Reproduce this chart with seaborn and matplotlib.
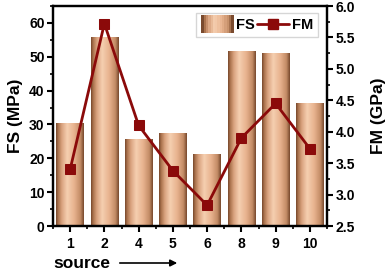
import numpy as np
import pandas as pd
import matplotlib
matplotlib.use("Agg")
import matplotlib.pyplot as plt
import seaborn as sns
from matplotlib.colors import LinearSegmentedColormap
from matplotlib.ticker import MultipleLocator
from matplotlib.legend_handler import HandlerPatch
from matplotlib.patches import Rectangle

sources = ["1", "2", "4", "5", "6", "8", "9", "10"]
fs_values = [30.5, 55.8, 25.8, 27.4, 21.3, 51.8, 51.0, 36.2]
fm_values = [3.40, 5.72, 4.10, 3.38, 2.83, 3.90, 4.45, 3.73]

sns.set_theme(style="ticks")
plt.rcParams['font.family'] = ['Liberation Sans', 'DejaVu Sans']
plt.rcParams['font.weight'] = 'bold'
plt.rcParams['text.color'] = 'black'
plt.rcParams['axes.labelcolor'] = 'black'
plt.rcParams['xtick.color'] = 'black'
plt.rcParams['ytick.color'] = 'black'

df = pd.DataFrame({"source": sources, "FS": fs_values, "FM": fm_values})

fig = plt.figure(figsize=(3.87, 2.69), dpi=100)
ax = fig.add_axes([53/387, 1-226/269, (327-53)/387, (226-6)/269])

sns.barplot(data=df, x="source", y="FS", ax=ax, color="#e3ae88", width=0.8,
            edgecolor="none", zorder=2)

cmap = LinearSegmentedColormap.from_list(
    "bar", [(0.0, "#7a4a2e"), (0.07, "#a9714c"), (0.2, "#d9a27e"),
            (0.4, "#f5cfb0"), (0.65, "#e8b38f"), (0.88, "#c38c66"), (1.0, "#7a4a2e")])
grad = np.linspace(0, 1, 64).reshape(1, -1)
for p in list(ax.patches):
    x0, y0 = p.get_x(), p.get_y()
    w, h = p.get_width(), p.get_height()
    im = ax.imshow(grad, cmap=cmap, aspect="auto", extent=[x0, x0 + w, y0, y0 + h],
                   zorder=2.1, interpolation="bilinear")
    im.set_clip_path(p)

ax.set_xlim(-0.5, 7.5)
ax.set_ylim(0, 65)
ax.yaxis.set_major_locator(MultipleLocator(10))
ax.yaxis.set_minor_locator(MultipleLocator(5))
ax.xaxis.set_minor_locator(MultipleLocator(0.5))
ax.set_ylabel("FS (MPa)", fontsize=12.5, fontweight="bold", color="black")
ax.yaxis.set_label_coords(-0.109, 0.5)
ax.set_xlabel("")

ax2 = ax.twinx()
sns.lineplot(data=df, x="source", y="FM", ax=ax2, color="#8b0a0a", lw=2,
             marker="s", markersize=6.5, markeredgecolor="#8b0a0a", sort=False,
             zorder=5)
ax2.set_ylim(2.5, 6.0)
ax2.yaxis.set_major_locator(MultipleLocator(0.5))
ax2.yaxis.set_minor_locator(MultipleLocator(0.25))
ax2.set_ylabel("FM (GPa)", fontsize=12.5, fontweight="bold", color="black")
ax2.yaxis.set_label_coords(1.160, 0.5)
ax2.set_xlabel("")
ax2.set_xlim(-0.5, 7.5)

for a in (ax, ax2):
    for s in a.spines.values():
        s.set_linewidth(1.6)
        s.set_color("black")
        s.set_visible(True)
    a.tick_params(which="major", direction="out", length=4, width=1.5,
                  labelsize=10, colors="black", labelcolor="black", pad=2)
    a.tick_params(which="minor", direction="out", length=2.5, width=1.2, colors="black")
    for lbl in a.get_xticklabels() + a.get_yticklabels():
        lbl.set_fontweight("bold")
ax.tick_params(axis="x", pad=4)

class GradHandler(HandlerPatch):
    def create_artists(self, legend, orig_handle, xdescent, ydescent, width, height, fontsize, trans):
        artists = []
        n = 14
        for i in range(n):
            c = cmap(i / (n - 1))
            r = Rectangle((-xdescent + i * width / n, -ydescent - 3), width / n + 0.3, height + 6,
                          facecolor=c, edgecolor="none", transform=trans)
            artists.append(r)
        return artists

bar_handle = Rectangle((0, 0), 1, 1)
line_handle, = ax2.plot([], [], color="#8b0a0a", lw=2, marker="s", markersize=6.5)
leg = ax2.legend([bar_handle, line_handle], ["FS", "FM"], ncol=2, loc="upper right",
                 handler_map={Rectangle: GradHandler()}, fontsize=10.5,
                 frameon=True, fancybox=False, edgecolor="#cccccc",
                 handlelength=2.2, handletextpad=0.2, columnspacing=0.1,
                 borderpad=0.35, borderaxespad=0.0,
                 bbox_to_anchor=(0.967, 0.968))
for t in leg.get_texts():
    t.set_fontweight("bold")
    t.set_color("black")
leg.get_frame().set_linewidth(1.0)

fig.text(53/387, 1-263/269, "source", fontsize=12.5, fontweight="bold",
         ha="left", va="center", color="black")
ax.annotate("", xy=(180, 269-263), xytext=(117, 269-263), xycoords="figure pixels",
            textcoords="figure pixels",
            arrowprops=dict(arrowstyle="-|>", color="black", lw=1.2,
                            mutation_scale=10))

fig.savefig("out.png", dpi=100)
